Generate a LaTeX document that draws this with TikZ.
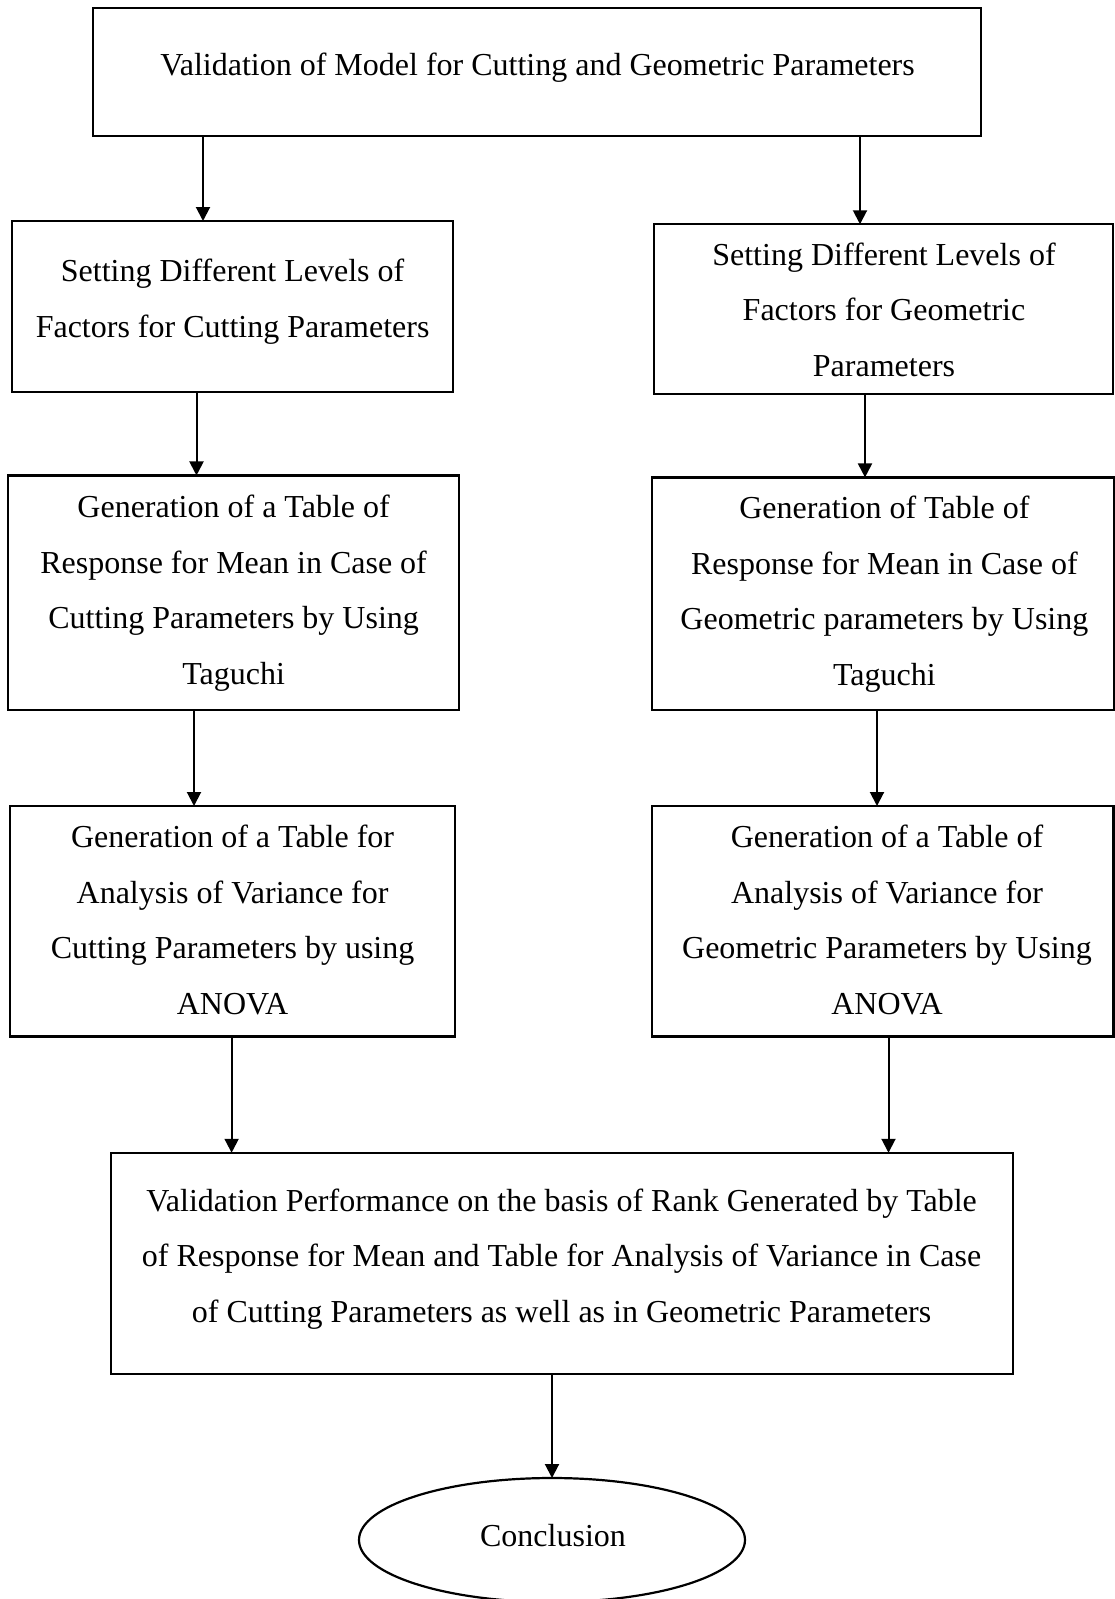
\documentclass[tikz,border=0pt]{standalone}
\usepackage{fontspec}
\setmainfont{Liberation Serif}
\usetikzlibrary{arrows.meta,shapes.geometric}

\begin{document}
\begin{tikzpicture}[x=1pt,y=-1pt,
  frame/.style={draw, line width=2.2pt, inner sep=0pt, outer sep=0pt},
  txt/.style={font=\fontsize{32}{55.5}\selectfont, align=center, inner sep=0pt},
  flow/.style={line width=2pt, -{Triangle[length=14pt,width=14pt]}}]

% canvas
\fill[white] (0,0) rectangle (1115,1599);
\useasboundingbox (0,0) rectangle (1115,1599);

% boxes
\node[frame, minimum width=888pt, minimum height=127.5pt] (top) at (537,72) {};
\node[frame, minimum width=440.5pt, minimum height=171pt] (c1) at (232.5,306.5) {};
\node[frame, minimum width=459pt, minimum height=169.5pt] (g1) at (883.5,309) {};
\node[frame, minimum width=451pt, minimum height=234.5pt] (c2) at (233.6,592.7) {};
\node[frame, minimum width=462pt, minimum height=232.6pt] (g2) at (882.9,593.7) {};
\node[frame, minimum width=444.8pt, minimum height=230.4pt] (c3) at (232.6,921.2) {};
\node[frame, minimum width=461.7pt, minimum height=230.4pt] (g3) at (882.6,921.2) {};
\node[frame, minimum width=902pt, minimum height=221.3pt] (res) at (562,1263.4) {};
\node[draw, line width=2.2pt, ellipse, inner sep=0pt, outer sep=0pt,
      minimum width=386pt, minimum height=124pt] (end) at (552,1540) {};

% box texts
\node[txt] (ttop) at (537.5,64.3) {\strut Validation of Model for Cutting and Geometric Parameters};
\node[txt] (tc1) at (232.6,298.4) {\strut Setting Different Levels of\\\strut Factors for Cutting Parameters};
\node[txt] (tg1) at (884,309.6) {\strut Setting Different Levels of\\\strut Factors for Geometric\\\strut Parameters};
\node[txt] (tc2) at (233.6,589.8) {\strut Generation of a Table of\\\strut Response for Mean in Case of\\\strut Cutting Parameters by Using\\\strut Taguchi};
\node[txt] (tg2) at (884.4,591) {\strut Generation of Table of\\\strut Response for Mean in Case of\\\strut Geometric parameters by Using\\\strut Taguchi};
\node[txt] (tc3) at (232.6,920) {\strut Generation of a Table for\\\strut Analysis of Variance for\\\strut Cutting Parameters by using\\\strut ANOVA};
\node[txt] (tg3) at (887,920) {\strut Generation of a Table of\\\strut Analysis of Variance for\\\strut Geometric Parameters by Using\\\strut ANOVA};
\node[txt] (tres) at (561.6,1255.7) {\strut Validation Performance on the basis of Rank Generated by Table\\\strut of Response for Mean and Table for Analysis of Variance in Case\\\strut of Cutting Parameters as well as in Geometric Parameters};
\node[txt] (tend) at (553,1535) {\strut Conclusion};

% connectors
\draw[flow] (203,0 |- top.south) -- (203,0 |- c1.north);
\draw[flow] (860,0 |- top.south) -- (860,0 |- g1.north);
\draw[flow] (196.5,0 |- c1.south) -- (196.5,0 |- c2.north);
\draw[flow] (865,0 |- g1.south) -- (865,0 |- g2.north);
\draw[flow] (194,0 |- c2.south) -- (194,0 |- c3.north);
\draw[flow] (877,0 |- g2.south) -- (877,0 |- g3.north);
\draw[flow] (231.6,0 |- c3.south) -- (231.6,0 |- res.north);
\draw[flow] (888.5,0 |- g3.south) -- (888.5,0 |- res.north);
\draw[flow] (552,0 |- res.south) -- (end.north);
\end{tikzpicture}
\end{document}
